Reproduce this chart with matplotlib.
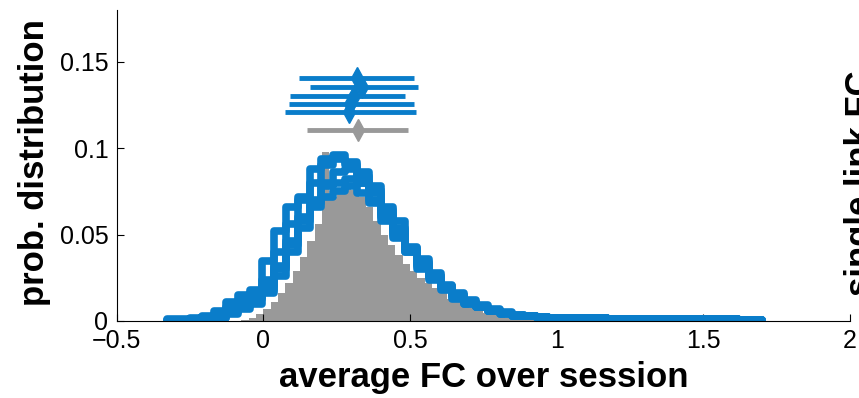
import numpy as np
import matplotlib.pyplot as plt

plt.rcParams.update({
    "font.family": "Liberation Sans",
    "font.size": 18,
})

blue = '#0a7dca'
grey = '#999999'

# gray histogram (bins of 0.025 from -0.1)
grey_start, grey_width = -0.1, 0.025
grey_vals = [0.0, 0.0005, 0.002, 0.004, 0.007, 0.011, 0.016, 0.022, 0.029, 0.037,
             0.046, 0.056, 0.098, 0.072, 0.076, 0.078, 0.076, 0.072, 0.066, 0.058,
             0.050, 0.044, 0.038, 0.033, 0.029, 0.025, 0.022, 0.019, 0.016, 0.013,
             0.011, 0.009, 0.0075, 0.006, 0.0045, 0.0035, 0.0025, 0.0018, 0.0012, 0.0008,
             0.0005, 0.0003, 0.0002, 0.0001]

# blue histograms (bins of 0.0406 from -0.33)
blue_start, blue_width = -0.33, 0.0406
tail = [0.003, 0.0025, 0.002, 0.0018, 0.0017, 0.0016, 0.0015, 0.0014, 0.0013, 0.0012,
        0.0012, 0.0011, 0.0011, 0.001, 0.001, 0.001, 0.0009, 0.0009, 0.0008, 0.0008]
blue_a = [0.001, 0.001, 0.0015, 0.003, 0.006, 0.011, 0.015, 0.018, 0.035, 0.052,
          0.066, 0.072, 0.088, 0.094, 0.096, 0.090, 0.080, 0.070, 0.060, 0.048,
          0.040, 0.030, 0.024, 0.018, 0.013, 0.010, 0.008, 0.006, 0.0045, 0.0035] + tail
blue_b = [0.0005, 0.0008, 0.001, 0.002, 0.004, 0.008, 0.012, 0.016, 0.024, 0.040,
          0.056, 0.070, 0.080, 0.090, 0.094, 0.092, 0.086, 0.078, 0.066, 0.058,
          0.043, 0.036, 0.028, 0.021, 0.016, 0.012, 0.009, 0.007, 0.005, 0.0035] + tail
blue_c = [0.0, 0.0005, 0.001, 0.0015, 0.003, 0.006, 0.010, 0.014, 0.020, 0.032,
          0.046, 0.060, 0.070, 0.078, 0.080, 0.082, 0.080, 0.074, 0.062, 0.054,
          0.042, 0.034, 0.026, 0.020, 0.015, 0.011, 0.008, 0.006, 0.0045, 0.003] + tail
blue_d = [0.0, 0.0, 0.0005, 0.001, 0.002, 0.004, 0.007, 0.010, 0.016, 0.026,
          0.040, 0.054, 0.066, 0.072, 0.075, 0.078, 0.074, 0.068, 0.058, 0.050,
          0.040, 0.032, 0.025, 0.019, 0.014, 0.010, 0.008, 0.006, 0.004, 0.003] + tail
blue_e = [0.0, 0.0, 0.0, 0.001, 0.002, 0.005, 0.009, 0.013, 0.018, 0.030,
          0.044, 0.058, 0.068, 0.080, 0.086, 0.088, 0.084, 0.076, 0.064, 0.052,
          0.041, 0.033, 0.026, 0.020, 0.015, 0.011, 0.008, 0.006, 0.004, 0.003] + tail
blue_hists = [blue_a, blue_b, blue_c, blue_d, blue_e]

# means and ranges shown above the histograms
blue_mean = [0.320, 0.336, 0.310, 0.296, 0.293]
blue_lo = [0.120, 0.158, 0.092, 0.086, 0.075]
blue_hi = [0.513, 0.526, 0.483, 0.513, 0.520]
blue_ypos = [0.1405, 0.1353, 0.1304, 0.1256, 0.1207]
grey_mean, grey_lo, grey_hi, grey_ypos = 0.323, 0.150, 0.494, 0.1105

xticks = [-0.5, 0, 0.5, 1, 1.5, 2]
xticklabels = ['\u22120.5', '0', '0.5', '1', '1.5', '2']
yticks = [0, 0.05, 0.1, 0.15]
yticklabels = ['0', '0.05', '0.1', '0.15']

fig = plt.figure(figsize=(8.59, 3.98), dpi=100)
ax = fig.add_axes([0.136, 0.1935, 0.8535, 0.7815])

grey_edges = grey_start + grey_width*np.arange(len(grey_vals)+1)
ax.stairs(grey_vals, grey_edges, fill=True, color=grey, zorder=1)

blue_edges = blue_start + blue_width*np.arange(len(blue_a)+1)
for h in blue_hists:
    p = ax.stairs(h, blue_edges, color=blue, linewidth=5.5, baseline=None, zorder=2)
    p.set_joinstyle('round')
    p.set_capstyle('round')

for m, lo, hi, yy in zip(blue_mean, blue_lo, blue_hi, blue_ypos):
    ax.plot([lo, hi], [yy, yy], color=blue, lw=3.5, solid_capstyle='butt', zorder=3)
    ax.plot(m, yy, 'd', color=blue, ms=11, zorder=4)
ax.plot([grey_lo, grey_hi], [grey_ypos, grey_ypos], color=grey, lw=3.5, solid_capstyle='butt', zorder=3)
ax.plot(grey_mean, grey_ypos, 'd', color=grey, ms=11, zorder=4)

ax.set_xlim(-0.5, 2)
ax.set_ylim(0, 0.18)
ax.set_xticks(xticks)
ax.set_xticklabels(xticklabels)
ax.set_yticks(yticks)
ax.set_yticklabels(yticklabels)
ax.tick_params(direction='in', length=5, width=0.8, pad=6)
for s in ['top', 'right']:
    ax.spines[s].set_visible(False)
for s in ['left', 'bottom']:
    ax.spines[s].set_linewidth(0.8)

ax.set_xlabel('average FC over session', fontsize=25, fontweight='bold')
ax.set_ylabel('prob. distribution', fontsize=25, fontweight='bold')
ax.xaxis.set_label_coords(0.5, -0.13)
ax.yaxis.set_label_coords(-0.09, 0.51)

fig.text(0.982, 0.54, 'single link FC', rotation=90, fontsize=25, fontweight='bold',
         ha='left', va='center')

plt.savefig('out.png', dpi=100)
